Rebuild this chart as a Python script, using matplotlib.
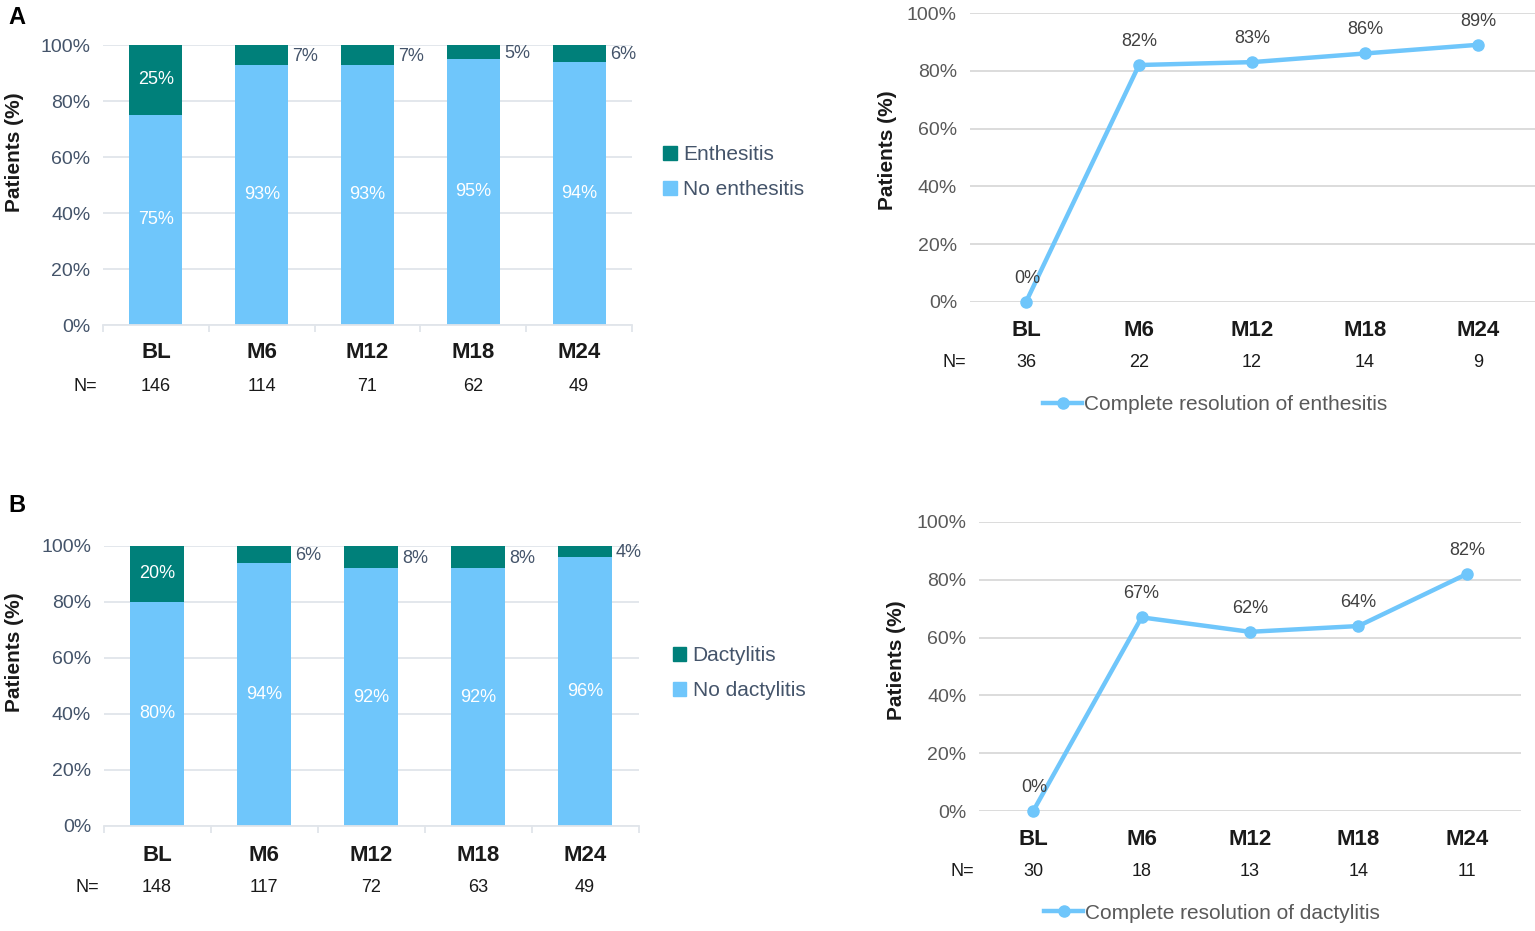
import matplotlib
matplotlib.use("Agg")
import matplotlib.pyplot as plt
import matplotlib.transforms as mtransforms
from matplotlib.patches import Patch

plt.rcParams['font.family'] = ['Liberation Sans', 'DejaVu Sans']

# ---------------- data ----------------
categories = ['BL', 'M6', 'M12', 'M18', 'M24']

enth_n = [146, 114, 71, 62, 49]
enthesitis = [25, 7, 7, 5, 6]
no_enthesitis = [75, 93, 93, 95, 94]

dact_n = [148, 117, 72, 63, 49]
dactylitis = [20, 6, 8, 8, 4]
no_dactylitis = [80, 94, 92, 92, 96]

res_enth_n = [36, 22, 12, 14, 9]
res_enth = [0, 82, 83, 86, 89]

res_dact_n = [30, 18, 13, 14, 11]
res_dact = [0, 67, 62, 64, 82]

y_ticks = [0, 20, 40, 60, 80, 100]

# ---------------- style ----------------
W, H = 1535, 931
LIGHT = '#6FC6FB'
TEAL = '#00807A'
GRID_L = '#E1E5EA'
GRID_R = '#D9D9D9'
SLATE = '#44546A'
GRAY = '#595959'
DARK = '#1A1A1A'

fig = plt.figure(figsize=(W / 100, H / 100), dpi=100)


def rect(l, r, top, bottom):
    return [l / W, 1 - bottom / H, (r - l) / W, (bottom - top) / H]


def base_axes(ax, tick_color, grid_color):
    ax.set_ylim(0, 100)
    ax.set_xlim(-0.5, len(categories) - 0.5)
    ax.set_yticks(y_ticks)
    ax.set_yticklabels([f'{v}%' for v in y_ticks])
    ax.tick_params(axis='y', length=0, pad=9, labelsize=14, labelcolor=tick_color)
    ax.set_xticks([])
    ax.grid(axis='y', color=grid_color, lw=1.3, zorder=0)
    ax.set_axisbelow(True)
    for s in ['top', 'right', 'left']:
        ax.spines[s].set_visible(False)


def cat_rows(ax, ns, y_cat, y_n, x_neq):
    tr = mtransforms.blended_transform_factory(ax.transData, ax.transAxes)
    for i, (c, n) in enumerate(zip(categories, ns)):
        ax.text(i, y_cat, c, transform=tr, ha='center', va='center',
                fontsize=16, fontweight='bold', color=DARK)
        ax.text(i, y_n, str(n), transform=tr, ha='center', va='center',
                fontsize=13, color=DARK)
    ax.text(x_neq, y_n, 'N=', transform=tr, ha='center', va='center',
            fontsize=13, color=DARK)


def bar_panel(ax, top_vals, bot_vals, ns, top_lab, bot_lab, ylab_xy, rows, leg_xy):
    base_axes(ax, SLATE, GRID_L)
    x = list(range(len(categories)))
    ax.bar(x, bot_vals, width=0.5, color=LIGHT, zorder=2)
    ax.bar(x, top_vals, bottom=bot_vals, width=0.5, color=TEAL, zorder=2)
    for i in x:
        ax.text(i, bot_vals[i] / 2, f'{bot_vals[i]}%', ha='center', va='center',
                color='white', fontsize=13, zorder=3)
        yc = bot_vals[i] + top_vals[i] / 2
        if top_vals[i] >= 12:
            ax.text(i, yc, f'{top_vals[i]}%', ha='center', va='center',
                    color='white', fontsize=13, zorder=3)
        else:
            ax.annotate(f'{top_vals[i]}%', (i + 0.25, yc), xytext=(3, -1),
                        textcoords='offset points', ha='left', va='center',
                        color=SLATE, fontsize=13)
    ax.spines['bottom'].set_color(GRID_L)
    ax.spines['bottom'].set_linewidth(1.3)
    ax.set_xticks([i - 0.5 for i in range(len(categories) + 1)], minor=True)
    ax.tick_params(axis='x', which='minor', length=5, color=GRID_L, width=1.3, direction='out')
    ax.text(ylab_xy[0], ylab_xy[1], 'Patients (%)', transform=ax.transAxes, rotation=90,
            ha='center', va='center', fontsize=15, fontweight='bold', color=DARK)
    cat_rows(ax, ns, *rows)
    handles = [Patch(color=TEAL, label=top_lab), Patch(color=LIGHT, label=bot_lab)]
    ax.legend(handles=handles, loc='center left', bbox_to_anchor=leg_xy, frameon=False,
              fontsize=15, labelcolor=SLATE, handlelength=0.65, handleheight=0.65,
              handletextpad=0.3, labelspacing=0.75, borderpad=0, borderaxespad=0)


def line_panel(ax, vals, ns, label, ylab_xy, rows, leg_xy):
    base_axes(ax, GRAY, GRID_R)
    ax.spines['bottom'].set_visible(False)
    x = list(range(len(categories)))
    ax.plot(x, vals, color=LIGHT, lw=3.2, marker='o', ms=8, zorder=3,
            label=label, clip_on=False)
    for i in x:
        ax.annotate(f'{vals[i]}%', (i, vals[i]), xytext=(1 if vals[i] == 0 else 0, 17),
                    textcoords='offset points', ha='center', va='center',
                    fontsize=13, color='#404040')
    ax.text(ylab_xy[0], ylab_xy[1], 'Patients (%)', transform=ax.transAxes, rotation=90,
            ha='center', va='center', fontsize=15, fontweight='bold', color=DARK)
    cat_rows(ax, ns, *rows)
    ax.legend(loc='center', bbox_to_anchor=leg_xy, frameon=False, fontsize=15,
              labelcolor=GRAY, handlelength=1.9, handletextpad=0.1,
              borderpad=0, borderaxespad=0)


axA = fig.add_axes(rect(103, 632, 45, 325))
bar_panel(axA, enthesitis, no_enthesitis, enth_n, 'Enthesitis', 'No enthesitis',
          (-0.168, 0.618), (-0.10, -0.221, -0.67), (1.059, 0.546))

axB = fig.add_axes(rect(103.5, 638.5, 546, 826))
bar_panel(axB, dactylitis, no_dactylitis, dact_n, 'Dactylitis', 'No dactylitis',
          (-0.167, 0.621), (-0.104, -0.221, -0.65), (1.064, 0.546))

axC = fig.add_axes(rect(969.5, 1534.5, 13, 302))
line_panel(axC, res_enth, res_enth_n, 'Complete resolution of enthesitis',
           (-0.146, 0.526), (-0.097, -0.211, -0.63), (0.435, -0.356))

axD = fig.add_axes(rect(979, 1521, 522, 811))
line_panel(axD, res_dact, res_dact_n, 'Complete resolution of dactylitis',
           (-0.153, 0.522), (-0.10, -0.211, -0.65), (0.43, -0.353))

fig.text(17 / W, 1 - 18 / H, 'A', ha='center', va='center', fontsize=17, fontweight='bold')
fig.text(17 / W, 1 - 505 / H, 'B', ha='center', va='center', fontsize=17, fontweight='bold')

fig.savefig('out.png', dpi=100, facecolor='white')
